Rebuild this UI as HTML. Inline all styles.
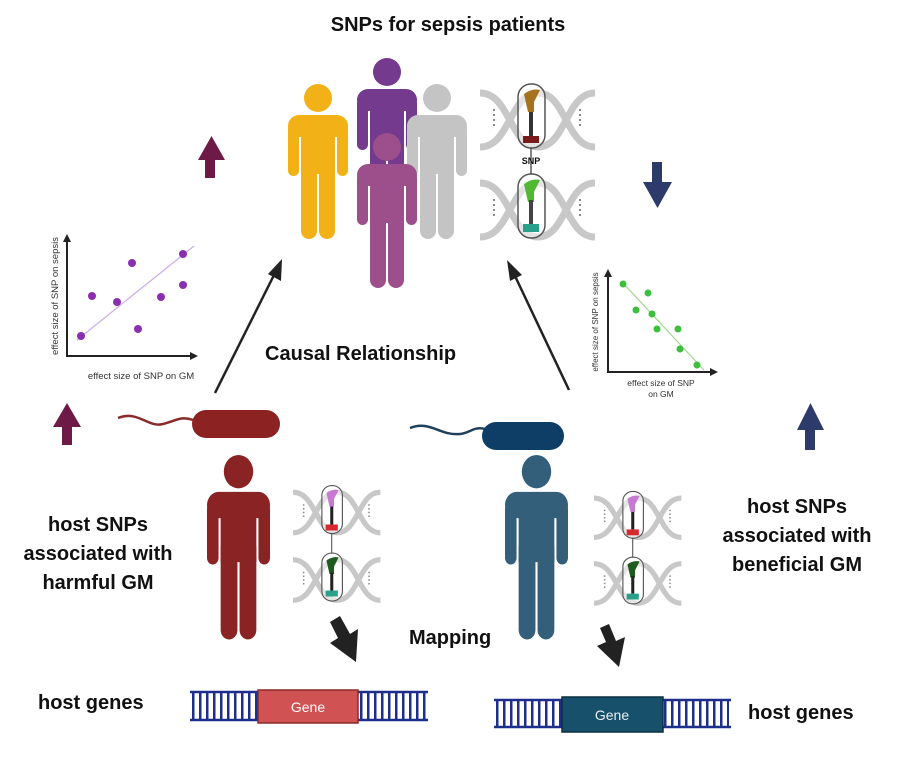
<!DOCTYPE html>
<html><head><meta charset="utf-8"><style>
html,body{margin:0;padding:0;background:#fff;}
svg{display:block;font-family:"Liberation Sans",Arial,sans-serif;}
.b{font-weight:bold;fill:#111;}
</style></head><body>
<svg width="900" height="771" viewBox="0 0 900 771" xmlns="http://www.w3.org/2000/svg">
<defs>
<g id="person">
  <circle cx="30" cy="14" r="14"/>
  <rect x="0" y="31" width="60" height="22" rx="11"/>
  <rect x="0" y="40" width="11" height="52" rx="5.5"/>
  <rect x="49" y="40" width="11" height="52" rx="5.5"/>
  <rect x="13" y="40" width="34" height="50"/>
  <rect x="13" y="70" width="16" height="85" rx="8"/>
  <rect x="31" y="70" width="16" height="85" rx="8"/>
</g>
<g id="helix" fill="none" stroke="#c8c8c8" stroke-width="7">
  <path d="M0,6 C30,6 30,60 58,60 C86,60 86,6 115,6"/>
  <path d="M0,60 C30,60 30,6 58,6 C86,6 86,60 115,60"/>
  <path d="M14,22 v20 M100,22 v20" stroke="#888" stroke-width="2" stroke-dasharray="2 3"/>
</g>
<g id="dna">
  <use href="#helix" x="0" y="5"/>
  <use href="#helix" x="0" y="95"/>
  <rect x="38" y="2" width="27" height="64" rx="13" fill="#fff" fill-opacity="0.5" stroke="#555" stroke-width="1.5"/>
  <rect x="38" y="92" width="27" height="64" rx="13" fill="#fff" fill-opacity="0.5" stroke="#555" stroke-width="1.5"/>
  <line x1="51" y1="66" x2="51" y2="92" stroke="#333" stroke-width="1.2"/>
</g>
</defs>

<text x="448" y="31" text-anchor="middle" class="b" font-size="20">SNPs for sepsis patients</text>

<use href="#person" x="288" y="84" fill="#f3b118"/>
<use href="#person" x="357" y="58" fill="#733a8e"/>
<use href="#person" x="407" y="84" fill="#c4c4c4"/>
<use href="#person" x="357" y="133" fill="#9c4f8b"/>

<g transform="translate(480,82)">
  <use href="#dna"/>
  <path d="M44,12 q8,-6 16,-4 l-6,12 v10 h-6z" fill="#a6731f"/>
  <rect x="49" y="30" width="4" height="26" fill="#333"/>
  <rect x="43" y="54" width="16" height="7" fill="#7a1a1a"/>
  <path d="M44,102 q8,-6 16,-4 l-6,12 v10 h-6z" fill="#52b733"/>
  <rect x="49" y="118" width="4" height="26" fill="#444"/>
  <rect x="43" y="142" width="16" height="8" fill="#29a08a"/>
  <text x="51" y="82" text-anchor="middle" font-size="9" font-weight="bold" fill="#111">SNP</text>
</g>

<path d="M205,178 h10 v-18 h10 l-13.5,-24 l-13.5,24 h7z" fill="#6e1a47"/>
<path d="M62,445 h10 v-18 h9 l-14,-24 l-14,24 h9z" fill="#6e1a47"/>
<path d="M652,162 h10 v20 h10 l-14.5,26 l-14.5,-26 h9z" fill="#2d3b6b"/>
<path d="M805,450 h10 v-20 h9 l-13.5,-27 l-13.5,27 h8z" fill="#2d3b6b"/>

<g>
  <line x1="67" y1="237" x2="67" y2="357" stroke="#222" stroke-width="2"/>
  <path d="M63,242 l4,-8 l4,8z" fill="#222"/>
  <line x1="66" y1="356" x2="192" y2="356" stroke="#222" stroke-width="2"/>
  <path d="M190,352 l8,4 l-8,4z" fill="#222"/>
  <line x1="77" y1="340" x2="194" y2="246" stroke="#c9aee6" stroke-width="1.2"/>
  <g fill="#8a2fb0">
    <circle cx="81" cy="336" r="4"/><circle cx="92" cy="296" r="4"/><circle cx="132" cy="263" r="4"/>
    <circle cx="117" cy="302" r="4"/><circle cx="138" cy="329" r="4"/><circle cx="161" cy="297" r="4"/>
    <circle cx="183" cy="285" r="4"/><circle cx="183" cy="254" r="4"/>
  </g>
  <text x="141" y="379" text-anchor="middle" font-size="9.5" fill="#333">effect size of SNP on GM</text>
  <text transform="translate(58,296) rotate(-90)" text-anchor="middle" font-size="9.5" fill="#333">effect size of SNP on sepsis</text>
</g>

<g>
  <line x1="608" y1="272" x2="608" y2="373" stroke="#222" stroke-width="2"/>
  <path d="M604,277 l4,-8 l4,8z" fill="#222"/>
  <line x1="607" y1="372" x2="712" y2="372" stroke="#222" stroke-width="2"/>
  <path d="M710,368 l8,4 l-8,4z" fill="#222"/>
  <line x1="622" y1="282" x2="704" y2="370" stroke="#9fd98f" stroke-width="1.2"/>
  <g fill="#3cbf3c">
    <circle cx="623" cy="284" r="3.5"/><circle cx="648" cy="293" r="3.5"/><circle cx="636" cy="310" r="3.5"/>
    <circle cx="652" cy="314" r="3.5"/><circle cx="657" cy="329" r="3.5"/><circle cx="678" cy="329" r="3.5"/>
    <circle cx="680" cy="349" r="3.5"/><circle cx="697" cy="365" r="3.5"/>
  </g>
  <text x="661" y="386" text-anchor="middle" font-size="8.5" fill="#333">effect size of SNP</text>
  <text x="661" y="397" text-anchor="middle" font-size="8.5" fill="#333">on GM</text>
  <text transform="translate(598,322) rotate(-90)" text-anchor="middle" font-size="8" fill="#333">effect size of SNP on sepsis</text>
</g>

<line x1="215" y1="393" x2="274" y2="275" stroke="#222" stroke-width="2.5"/>
<path d="M282,259 l-1,22 l-13,-7z" fill="#222"/>
<line x1="569" y1="390" x2="515" y2="276" stroke="#222" stroke-width="2.5"/>
<path d="M507,260 l15,15 l-12,6z" fill="#222"/>
<text x="265" y="360" class="b" font-size="20">Causal Relationship</text>

<path d="M118,418 c20,-8 30,10 45,6 c15,-4 18,-8 30,-4" fill="none" stroke="#8b2a2a" stroke-width="2.5"/>
<rect x="192" y="410" width="88" height="28" rx="14" fill="#8d2222"/>
<path d="M410,428 c20,-8 30,8 50,6 c10,-1 14,-8 25,-5" fill="none" stroke="#1f3f5a" stroke-width="2.5"/>
<rect x="482" y="422" width="82" height="28" rx="14" fill="#0e3e66"/>

<use href="#person" transform="translate(207,455) scale(1.05,1.19)" fill="#8a2424"/>
<use href="#person" transform="translate(505,455) scale(1.05,1.19)" fill="#335f7a"/>

<g transform="translate(293,484) scale(0.76,0.75)">
  <use href="#dna"/>
  <path d="M44,12 q8,-6 16,-4 l-6,12 v10 h-6z" fill="#c77ad1"/>
  <rect x="49" y="30" width="4" height="24" fill="#222"/>
  <rect x="43" y="54" width="16" height="8" fill="#d8282e"/>
  <path d="M44,102 q8,-6 16,-4 l-6,12 v10 h-6z" fill="#1f5a1f"/>
  <rect x="49" y="118" width="4" height="24" fill="#222"/>
  <rect x="43" y="142" width="16" height="8" fill="#2aa08a"/>
</g>
<g transform="translate(594,490) scale(0.76,0.73)">
  <use href="#dna"/>
  <path d="M44,12 q8,-6 16,-4 l-6,12 v10 h-6z" fill="#c77ad1"/>
  <rect x="49" y="30" width="4" height="24" fill="#222"/>
  <rect x="43" y="54" width="16" height="8" fill="#d8282e"/>
  <path d="M44,102 q8,-6 16,-4 l-6,12 v10 h-6z" fill="#1f5a1f"/>
  <rect x="49" y="118" width="4" height="24" fill="#222"/>
  <rect x="43" y="142" width="16" height="8" fill="#2aa08a"/>
</g>

<g class="b" font-size="20" text-anchor="middle">
  <text x="98" y="531">host SNPs</text>
  <text x="98" y="560">associated with</text>
  <text x="98" y="589">harmful GM</text>
  <text x="797" y="513">host SNPs</text>
  <text x="797" y="542">associated with</text>
  <text x="797" y="571">beneficial GM</text>
</g>
<text x="409" y="644" class="b" font-size="20">Mapping</text>
<text x="38" y="709" class="b" font-size="20">host genes</text>
<text x="748" y="719" class="b" font-size="20">host genes</text>

<path d="M330,622 l10,-6 l10,18 l8,-5 l-2,33 l-26,-19 l8,-5z" fill="#222"/>
<path d="M600,628 l9,-4 l7,17 l9,-4 l-6,30 l-22,-21 l9,-4z" fill="#222"/>

<g>
  <g stroke="#1d2f8a" stroke-width="2.5">
    <line x1="190" y1="692" x2="428" y2="692"/>
    <line x1="190" y1="720" x2="428" y2="720"/>
  </g>
  <g stroke="#1d2f8a" stroke-width="2.5" stroke-dasharray="2.5 4.5">
    <line x1="192" y1="706" x2="426" y2="706" stroke-width="28"/>
  </g>
  <rect x="258" y="690" width="100" height="33" fill="#d05252" stroke="#8a2a2a" stroke-width="1.5"/>
  <text x="308" y="712" text-anchor="middle" font-size="14" fill="#fff">Gene</text>
</g>
<g>
  <g stroke="#1d2f8a" stroke-width="2.5">
    <line x1="494" y1="700" x2="731" y2="700"/>
    <line x1="494" y1="727" x2="731" y2="727"/>
  </g>
  <g stroke="#1d2f8a" stroke-width="2.5" stroke-dasharray="2.5 4.5">
    <line x1="496" y1="713.5" x2="729" y2="713.5" stroke-width="27"/>
  </g>
  <rect x="562" y="697" width="101" height="35" fill="#17506a" stroke="#0d2f40" stroke-width="1.5"/>
  <text x="612" y="720" text-anchor="middle" font-size="14" fill="#e8f0f4">Gene</text>
</g>
</svg>
</body></html>
